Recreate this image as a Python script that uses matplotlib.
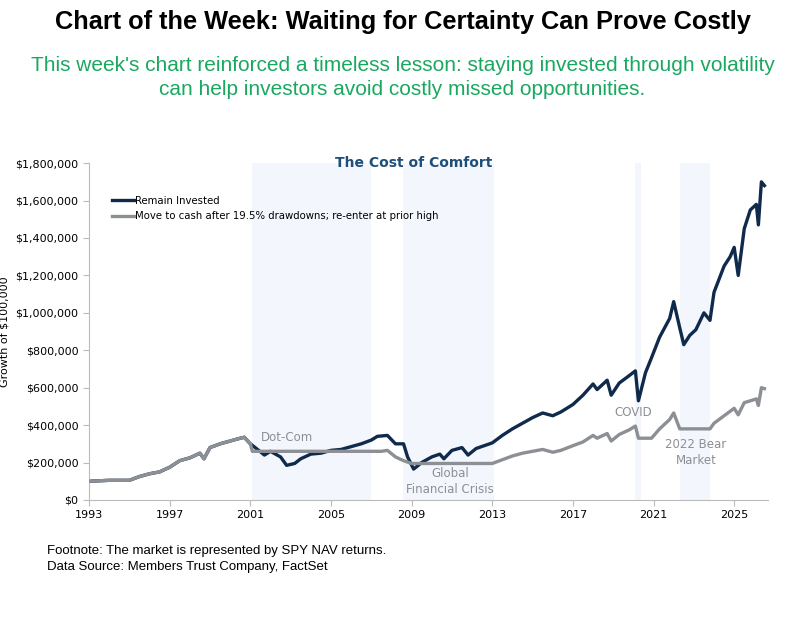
import matplotlib.pyplot as plt
from matplotlib.ticker import FuncFormatter

inv_x = [1993.0, 1994, 1995, 1995.5, 1996, 1996.5, 1997, 1997.5, 1998, 1998.5, 1998.7, 1999, 1999.5, 2000,
         2000.5, 2000.7, 2001, 2001.3, 2001.7, 2002, 2002.5, 2002.8, 2003.2, 2003.5, 2004, 2004.5, 2005,
         2005.5, 2006, 2006.5, 2007, 2007.3, 2007.8, 2008.2, 2008.6, 2008.8, 2009.1, 2009.5, 2010, 2010.4,
         2010.6, 2011, 2011.5, 2011.8, 2012.2, 2012.6, 2013, 2013.5, 2014, 2014.5, 2015, 2015.5, 2016,
         2016.4, 2017, 2017.5, 2018, 2018.2, 2018.7, 2018.9, 2019.3, 2019.8, 2020.1, 2020.25, 2020.6,
         2020.9, 2021.3, 2021.8, 2022.0, 2022.3, 2022.5, 2022.8, 2023.1, 2023.5, 2023.8, 2024.0, 2024.5,
         2024.8, 2025.0, 2025.2, 2025.5, 2025.8, 2026.1, 2026.2, 2026.35, 2026.5]
inv_y = [100, 105, 105, 125, 140, 150, 175, 210, 225, 250, 220, 280, 300, 315, 330, 335, 300, 275, 240,
         260, 230, 185, 195, 220, 245, 250, 265, 270, 285, 300, 320, 340, 345, 300, 300, 230, 165, 200,
         230, 245, 220, 265, 280, 240, 275, 290, 305, 345, 380, 410, 440, 465, 450, 470, 510, 560, 620,
         590, 640, 560, 625, 665, 690, 530, 680, 760, 870, 970, 1060, 920, 830, 880, 910, 1000, 960, 1110,
         1250, 1300, 1350, 1200, 1450, 1550, 1580, 1470, 1700, 1680]

cash_x = [1993.0, 1994, 1995, 1995.5, 1996, 1996.5, 1997, 1997.5, 1998, 1998.5, 1998.7, 1999, 1999.5, 2000,
          2000.5, 2000.7, 2001, 2001.1, 2007.5, 2007.8, 2008.2, 2008.6, 2009.0, 2013.0, 2013.5, 2014,
          2014.5, 2015, 2015.5, 2016, 2016.4, 2017, 2017.5, 2018, 2018.2, 2018.7, 2018.9, 2019.3, 2019.8,
          2020.1, 2020.25, 2020.9, 2021.3, 2021.8, 2022.0, 2022.3, 2023.8, 2024.0, 2024.5, 2025.0, 2025.2,
          2025.5, 2026.1, 2026.2, 2026.35, 2026.5]
cash_y = [100, 105, 105, 125, 140, 150, 175, 210, 225, 250, 220, 280, 300, 315, 330, 335, 300, 260, 260,
          265, 230, 210, 195, 195, 215, 235, 250, 260, 270, 255, 265, 290, 310, 345, 330, 355, 315, 350,
          375, 395, 330, 330, 380, 430, 465, 380, 380, 410, 450, 490, 455, 520, 540, 505, 600, 595]

shade = [(2001.1, 2007.0), (2008.55, 2013.1), (2020.1, 2020.4), (2022.3, 2023.8)]
events = [("Dot-Com", 2001.5, 336, 'left'), ("Global\nFinancial Crisis", 2010.9, 100, 'center'),
          ("COVID", 2020.0, 470, 'center'), ("2022 Bear\nMarket", 2023.1, 256, 'center')]

fig = plt.figure(figsize=(8.05, 6.18), dpi=100)
fig.text(0.5, 0.965, "Chart of the Week: Waiting for Certainty Can Prove Costly",
         ha='center', va='center', fontsize=18.3, fontweight='bold', family='Liberation Sans')
fig.text(0.5, 0.875, "This week's chart reinforced a timeless lesson: staying invested through volatility\n"
         "can help investors avoid costly missed opportunities.", ha='center', va='center',
         fontsize=15, color='#1aa861', family='Liberation Sans', linespacing=1.35)
fig.text(0.058, 0.077, "Footnote: The market is represented by SPY NAV returns.\nData Source: Members Trust Company, FactSet",
         fontsize=9.5, family='Liberation Sans', linespacing=1.45)

ax = fig.add_axes([0.1106, 0.191, 0.844, 0.545])
for a, b in shade:
    ax.axvspan(a, b, color='#f3f7fd', lw=0, zorder=0)
ax.plot(inv_x, inv_y, color='#0f2a4a', lw=2.4, label='Remain Invested', zorder=2)
ax.plot(cash_x, cash_y, color='#8c8f94', lw=2.4, label='Move to cash after 19.5% drawdowns; re-enter at prior high', zorder=3)
for t, x, y, h in events:
    ax.text(x, y, t, ha=h, va='center', color='#8c8f94', fontsize=8.5, linespacing=1.3)
ax.text(0.478, 1.0, "The Cost of Comfort", transform=ax.transAxes, ha='center', va='center',
        color='#1f4e79', fontweight='bold', fontsize=10)

ax.set_xlim(1993, 2026.7)
ax.set_ylim(0, 1800)
ax.set_xticks(range(1993, 2026, 4))
ax.set_yticks(range(0, 1801, 200))
ax.yaxis.set_major_formatter(FuncFormatter(lambda v, p: "${:,.0f}".format(v * 1000)))
ax.tick_params(labelsize=8, color='#bbbbbb', length=4)
ax.set_ylabel("Growth of $100,000", fontsize=8)
for s in ['top', 'right']:
    ax.spines[s].set_visible(False)
for s in ['left', 'bottom']:
    ax.spines[s].set_color('#bbbbbb')
ax.legend(loc='upper left', bbox_to_anchor=(0.02, 0.93), frameon=False,
          fontsize=7.3, handlelength=2.2, handletextpad=0.1, labelspacing=0.55)
fig.savefig("out.png")
